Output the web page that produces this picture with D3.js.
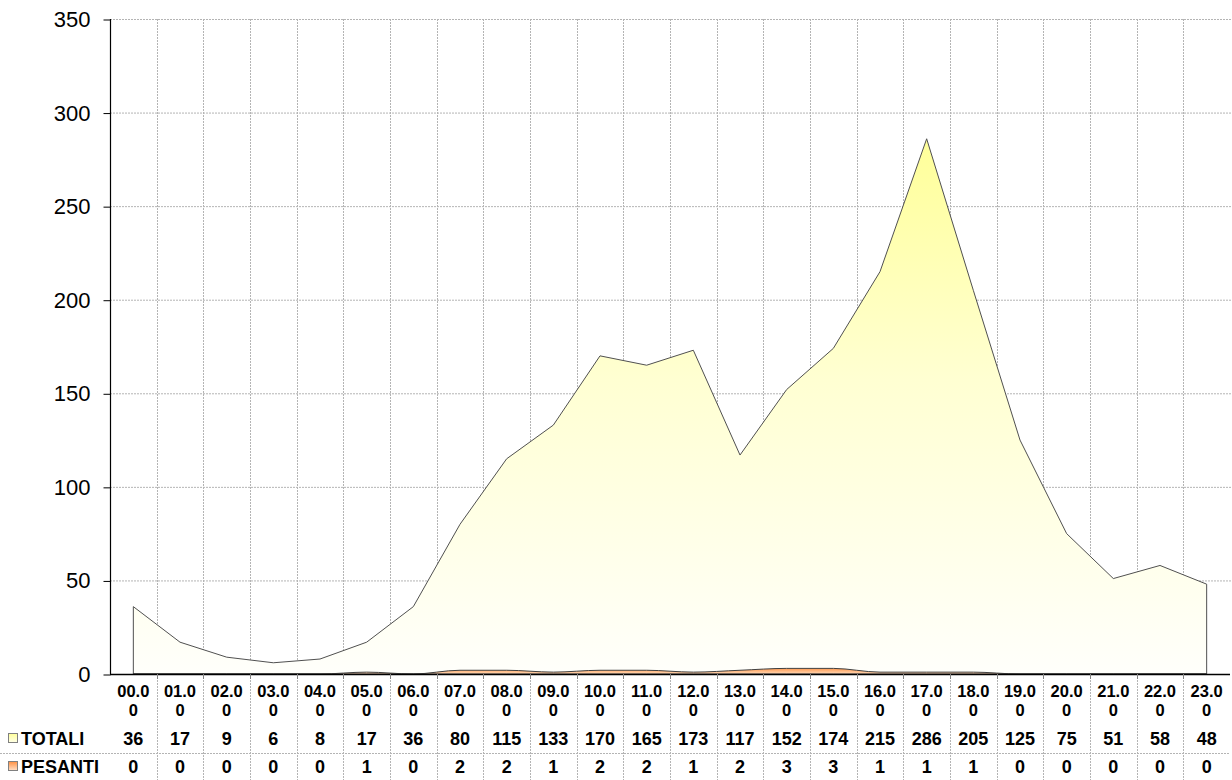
<!DOCTYPE html>
<html>
<head>
<meta charset="utf-8">
<script src="https://cdn.jsdelivr.net/npm/d3@7"></script>
<style>
  body { margin: 0; background: #fff; }
  text { font-family: Arial, "Liberation Sans", sans-serif; }
  .y.axis text { font-size: 22px; }
  .y.axis .domain { display: none; }
  .tbl { font-size: 18px; font-weight: bold; }
  .tbl .hdr { font-size: 16.5px; }
</style>
</head>
<body>
<div id="chartContainer"></div>
<script>
var hours = ["00.00", "01.00", "02.00", "03.00", "04.00", "05.00", "06.00", "07.00",
  "08.00", "09.00", "10.00", "11.00", "12.00", "13.00", "14.00", "15.00", "16.00",
  "17.00", "18.00", "19.00", "20.00", "21.00", "22.00", "23.00"];
var totali = [36, 17, 9, 6, 8, 17, 36, 80, 115, 133, 170, 165, 173, 117, 152, 174, 215, 286, 205, 125, 75, 51, 58, 48];
var pesanti = [0, 0, 0, 0, 0, 1, 0, 2, 2, 1, 2, 2, 1, 2, 3, 3, 1, 1, 1, 0, 0, 0, 0, 0];
var yTicks = [0, 50, 100, 150, 200, 250, 300, 350];
var seriesNames = ["TOTALI", "PESANTI"];

var W = 1232, H = 780;
var plot = { left: 110, right: 1230, top: 19, bottom: 674 };

var svg = d3.select("#chartContainer")
  .append("svg")
  .attr("width", W)
  .attr("height", H);

var defs = svg.append("defs");

var xScale = d3.scaleBand().domain(hours).range([plot.left, plot.right]).padding(0);
var yScale = d3.scaleLinear().domain([0, 350]).range([plot.bottom, plot.top]);
var cx = function(h) { return xScale(h) + xScale.bandwidth() / 2; };

// gradients
var gTot = defs.append("linearGradient")
  .attr("id", "gradTot")
  .attr("gradientUnits", "userSpaceOnUse")
  .attr("x1", 0).attr("x2", 0)
  .attr("y1", yScale(286)).attr("y2", yScale(0));
gTot.append("stop").attr("offset", "0%").attr("stop-color", "#ffff99");
gTot.append("stop").attr("offset", "45%").attr("stop-color", "#ffffd2");
gTot.append("stop").attr("offset", "100%").attr("stop-color", "#fffffb");

var gPes = defs.append("linearGradient")
  .attr("id", "gradPes")
  .attr("x1", "0%").attr("x2", "0%").attr("y1", "0%").attr("y2", "100%");
gPes.append("stop").attr("offset", "0%").attr("stop-color", "#ff9a50");
gPes.append("stop").attr("offset", "100%").attr("stop-color", "#ffd9b8");

var gKeyT = defs.append("linearGradient")
  .attr("id", "keyTot")
  .attr("x1", "0%").attr("x2", "0%").attr("y1", "0%").attr("y2", "100%");
gKeyT.append("stop").attr("offset", "0%").attr("stop-color", "#ffff99");
gKeyT.append("stop").attr("offset", "100%").attr("stop-color", "#ffffe8");

var gKeyP = defs.append("linearGradient")
  .attr("id", "keyPes")
  .attr("x1", "0%").attr("x2", "0%").attr("y1", "0%").attr("y2", "100%");
gKeyP.append("stop").attr("offset", "0%").attr("stop-color", "#ff8f40");
gKeyP.append("stop").attr("offset", "100%").attr("stop-color", "#ffe0c8");

// grid
var grid = svg.append("g").attr("class", "grid");
grid.selectAll(".hgrid")
  .data(yTicks.filter(function(d) { return d > 0; }))
  .enter().append("line")
  .attr("x1", plot.left).attr("x2", W)
  .attr("y1", function(d) { return yScale(d) + 0.5; })
  .attr("y2", function(d) { return yScale(d) + 0.5; })
  .attr("stroke", "#b4b4b4").attr("stroke-width", 1).attr("stroke-dasharray", "2,1");

var bounds = hours.slice(1).map(function(h) { return xScale(h); });
grid.selectAll(".vgrid")
  .data(bounds)
  .enter().append("line")
  .attr("x1", function(d) { return Math.round(d) + 0.5; })
  .attr("x2", function(d) { return Math.round(d) + 0.5; })
  .attr("y1", plot.top).attr("y2", plot.bottom)
  .attr("stroke", "#b4b4b4").attr("stroke-width", 1).attr("stroke-dasharray", "2,1");

// areas
var areaTot = d3.area()
  .x(function(d, i) { return cx(hours[i]); })
  .y0(yScale(0))
  .y1(function(d) { return yScale(d); });

svg.append("path")
  .attr("d", areaTot(totali))
  .attr("fill", "url(#gradTot)")
  .attr("stroke", "#505050")
  .attr("stroke-width", 1);

var areaPes = d3.area()
  .x(function(d, i) { return cx(hours[i]); })
  .y0(yScale(0))
  .y1(function(d) { return yScale(d); })
  .curve(d3.curveMonotoneX);

svg.append("path")
  .attr("d", areaPes(pesanti))
  .attr("fill", "url(#gradPes)")
  .attr("stroke", "#404040")
  .attr("stroke-width", 1);

// y axis
var yAxis = d3.axisLeft(yScale).tickValues(yTicks).tickSize(7).tickPadding(13);
var yg = svg.append("g")
  .attr("class", "y axis")
  .attr("transform", "translate(" + (plot.left + 0.5) + ",0.5)")
  .call(yAxis);
yg.selectAll(".tick line").attr("stroke", "#000");
yg.selectAll("text").attr("fill", "#000");

svg.append("line")
  .attr("x1", plot.left + 0.5).attr("x2", plot.left + 0.5)
  .attr("y1", plot.top).attr("y2", plot.bottom)
  .attr("stroke", "#000").attr("stroke-width", 1.2);

// x axis line + ticks
svg.append("line")
  .attr("x1", plot.left).attr("x2", plot.right)
  .attr("y1", plot.bottom + 0.5).attr("y2", plot.bottom + 0.5)
  .attr("stroke", "#000").attr("stroke-width", 1.5);

svg.selectAll(".xtick")
  .data(bounds)
  .enter().append("line")
  .attr("x1", function(d) { return Math.round(d) + 0.5; })
  .attr("x2", function(d) { return Math.round(d) + 0.5; })
  .attr("y1", plot.bottom).attr("y2", plot.bottom + 5)
  .attr("stroke", "#808080");

// data table
var tbl = svg.append("g").attr("class", "tbl");

tbl.selectAll(".tvline")
  .data(bounds)
  .enter().append("line")
  .attr("x1", function(d) { return Math.round(d) + 0.5; })
  .attr("x2", function(d) { return Math.round(d) + 0.5; })
  .attr("y1", plot.bottom + 6).attr("y2", H)
  .attr("stroke", "#b4b4b4").attr("stroke-dasharray", "2,1");

tbl.append("line")
  .attr("x1", 0).attr("x2", plot.right)
  .attr("y1", 753.5).attr("y2", 753.5)
  .attr("stroke", "#b4b4b4").attr("stroke-dasharray", "2,1");

// category labels wrap after four characters, as in the reference
var hdr = tbl.selectAll(".hdr")
  .data(hours)
  .enter().append("text")
  .attr("class", "hdr")
  .attr("text-anchor", "middle")
  .attr("x", function(d) { return cx(d); });
hdr.append("tspan")
  .attr("x", function(d) { return cx(d); })
  .attr("y", 697)
  .text(function(d) { return d.slice(0, 4); });
hdr.append("tspan")
  .attr("x", function(d) { return cx(d); })
  .attr("y", 715.5)
  .text(function(d) { return d.slice(4); });

var rows = [totali, pesanti];
var rowY = [744.5, 772.5];
var keyFill = ["url(#keyTot)", "url(#keyPes)"];

rows.forEach(function(vals, r) {
  tbl.selectAll(".val" + r)
    .data(vals)
    .enter().append("text")
    .attr("text-anchor", "middle")
    .attr("x", function(d, i) { return cx(hours[i]); })
    .attr("y", rowY[r])
    .text(function(d) { return d; });

  tbl.append("rect")
    .attr("x", 8.5).attr("y", rowY[r] - 11)
    .attr("width", 9).attr("height", 9)
    .attr("fill", keyFill[r])
    .attr("stroke", "#808080");

  tbl.append("text")
    .attr("x", 21)
    .attr("y", rowY[r])
    .text(seriesNames[r]);
});
</script>
</body>
</html>
